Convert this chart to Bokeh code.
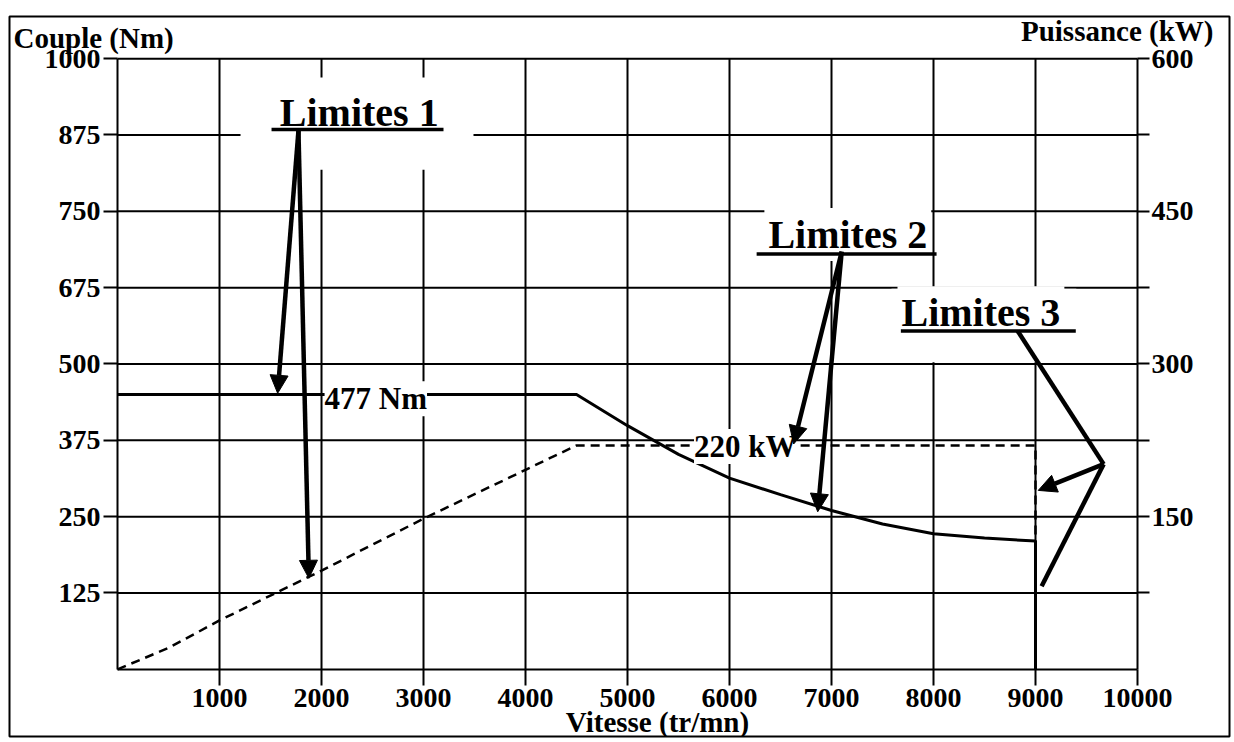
from bokeh.plotting import figure
from bokeh.models import Range1d, LinearAxis, FixedTicker, Label, Arrow, NormalHead, BoxAnnotation
from bokeh.embed import file_html
from bokeh.resources import INLINE

# ---------------- data ----------------
speed_ticks = [1000, 2000, 3000, 4000, 5000, 6000, 7000, 8000, 9000, 10000]
torque_ticks = [125, 250, 375, 500, 625, 750, 875, 1000]
torque_tick_labels = {125: "125", 250: "250", 375: "375", 500: "500",
                      625: "675", 750: "750", 875: "875", 1000: "1000"}
power_ticks = [75, 150, 225, 300, 375, 450, 525, 600]
power_tick_labels = {75: "", 150: "150", 225: "", 300: "300",
                     375: "", 450: "450", 525: "", 600: "600"}

# torque curve (Nm) vs speed (tr/mn)
torque_speed = [0, 4500, 5000, 5500, 6000, 6500, 7000, 7500, 8000, 8500, 9000, 9000]
torque_nm = [450, 450, 399, 352, 313, 286, 260, 238, 222, 215, 210, 0]

# power curve (kW) vs speed (tr/mn)
power_speed = [0, 500, 1000, 2000, 3000, 4000, 4500, 5000, 6000, 7000, 8000, 9000, 9000]
power_kw = [0, 21, 48, 97, 148, 196, 220, 220, 220, 220, 220, 220, 0]

# annotations (speed, torque-scale positions)
limit_names = ["Limites 1", "Limites 2", "Limites 3"]
limit_text_x = [2370, 7160, 8465]
limit_text_y = [912, 712, 584]
limit_line_x0 = [1510, 6266, 7680]
limit_line_x1 = [3196, 8030, 9395]
limit_line_y = [884, 680, 554]

# blank areas of the sheet around the "Limites" notes
blank_left = [1206, 7588]
blank_right = [3490, 9400]
blank_bottom = [818, 503]
blank_top = [969, 623]

arrow_x0 = [1774, 1774, 7100, 7100, 9668]
arrow_y0 = [882, 882, 684, 684, 336]
arrow_x1 = [1570, 1876, 6629, 6865, 9027]
arrow_y1 = [452, 149, 369, 258, 293]

path3_x = [8825, 9668, 9060]
path3_y = [554, 336, 136]

value_texts = ["477 Nm", "220 kW"]
value_x = [2030, 5652]
value_y = [443, 365]

title_texts = ["Couple (Nm)", "Puissance (kW)", "Vitesse (tr/mn)"]
title_x = [-1020, 10745, 5294]
title_y = [1033, 1046, -86]
title_align = ["left", "right", "center"]

SERIF = "Liberation Serif"

# the frame is the whole scanned sheet; the axes sit at fixed data locations
p = figure(width=1232, height=740,
           x_range=Range1d(-1059, 10902), y_range=Range1d(-110, 1069),
           output_backend="svg", toolbar_location=None,
           min_border_left=9, min_border_right=3, min_border_top=16, min_border_bottom=4,
           background_fill_color="white", border_fill_color="white")
p.extra_y_ranges = {"power": Range1d(-66, 641.4)}

p.outline_line_color = "black"
p.outline_line_width = 2
p.outline_line_alpha = 1
p.xgrid.visible = False
p.ygrid.visible = False

# grid lines drawn along the tick positions
p.segment(x0=speed_ticks[:-1], y0=[0] * (len(speed_ticks) - 1),
          x1=speed_ticks[:-1], y1=[torque_ticks[-1]] * (len(speed_ticks) - 1),
          line_color="black", line_width=2, level="underlay")
p.segment(x0=[0] * len(torque_ticks), y0=torque_ticks,
          x1=[speed_ticks[-1]] * len(torque_ticks), y1=torque_ticks,
          line_color="black", line_width=2, level="underlay")

for l, r, b, t in zip(blank_left, blank_right, blank_bottom, blank_top):
    p.add_layout(BoxAnnotation(left=l, right=r, bottom=b, top=t, fill_color="white",
                               fill_alpha=1, line_color=None, level="underlay"))


def style_axis(ax):
    ax.axis_line_color = "black"
    ax.axis_line_width = 2
    ax.major_tick_line_color = "black"
    ax.major_tick_line_width = 2
    ax.major_tick_in = 0
    ax.minor_tick_line_color = None
    ax.major_label_text_font = SERIF
    ax.major_label_text_font_size = "28px"
    ax.major_label_text_font_style = "bold"
    ax.major_label_text_color = "black"


xax = p.xaxis[0]
style_axis(xax)
xax.fixed_location = 0
xax.bounds = (0, speed_ticks[-1])
xax.ticker = FixedTicker(ticks=speed_ticks)
xax.major_tick_out = 16
xax.major_label_standoff = 4

yax = p.yaxis[0]
style_axis(yax)
yax.fixed_location = 0
yax.bounds = (0, torque_ticks[-1])
yax.ticker = FixedTicker(ticks=torque_ticks)
yax.major_label_overrides = torque_tick_labels
yax.major_tick_out = 14
yax.major_label_standoff = 3

rax = LinearAxis(y_range_name="power")
style_axis(rax)
rax.fixed_location = speed_ticks[-1]
rax.bounds = (0, power_ticks[-1])
rax.ticker = FixedTicker(ticks=power_ticks)
rax.major_label_overrides = power_tick_labels
rax.major_tick_out = 12
rax.major_label_standoff = 2
p.add_layout(rax, "right")

# curves
p.line(torque_speed, torque_nm, line_color="black", line_width=3)
p.line(power_speed, power_kw, y_range_name="power", line_color="black",
       line_width=2.5, line_dash="9 6")

# value labels with white background
for t, x, y in zip(value_texts, value_x, value_y):
    p.add_layout(Label(x=x, y=y, text=t, text_font=SERIF, text_font_size="31px",
                       text_font_style="bold", text_align="left", text_baseline="middle",
                       text_color="black", background_fill_color="white",
                       background_fill_alpha=1))

# Limites labels
for t, x, y in zip(limit_names, limit_text_x, limit_text_y):
    p.add_layout(Label(x=x, y=y, text=t, text_font=SERIF, text_font_size="40px",
                       text_font_style="bold", text_align="center",
                       text_baseline="middle", text_color="black",
                       background_fill_color="white", background_fill_alpha=1,
                       padding=4))

for x0, x1, y in zip(limit_line_x0, limit_line_x1, limit_line_y):
    p.add_layout(Arrow(end=None, start=None, x_start=x0, y_start=y, x_end=x1, y_end=y,
                       line_color="black", line_width=3.5))

for i in range(len(path3_x) - 1):
    p.add_layout(Arrow(end=None, start=None, x_start=path3_x[i], y_start=path3_y[i],
                       x_end=path3_x[i + 1], y_end=path3_y[i + 1],
                       line_color="black", line_width=4.5))

for x0, y0, x1, y1 in zip(arrow_x0, arrow_y0, arrow_x1, arrow_y1):
    p.add_layout(Arrow(end=NormalHead(size=18, fill_color="black", line_color="black"),
                       x_start=x0, y_start=y0, x_end=x1, y_end=y1,
                       line_color="black", line_width=4.5))

# axis titles
for t, x, y, a in zip(title_texts, title_x, title_y, title_align):
    p.add_layout(Label(x=x, y=y, text=t, text_font=SERIF, text_font_size="29px",
                       text_font_style="bold", text_align=a, text_baseline="middle",
                       text_color="black"))

open("out.html", "w").write(file_html(p, INLINE))
